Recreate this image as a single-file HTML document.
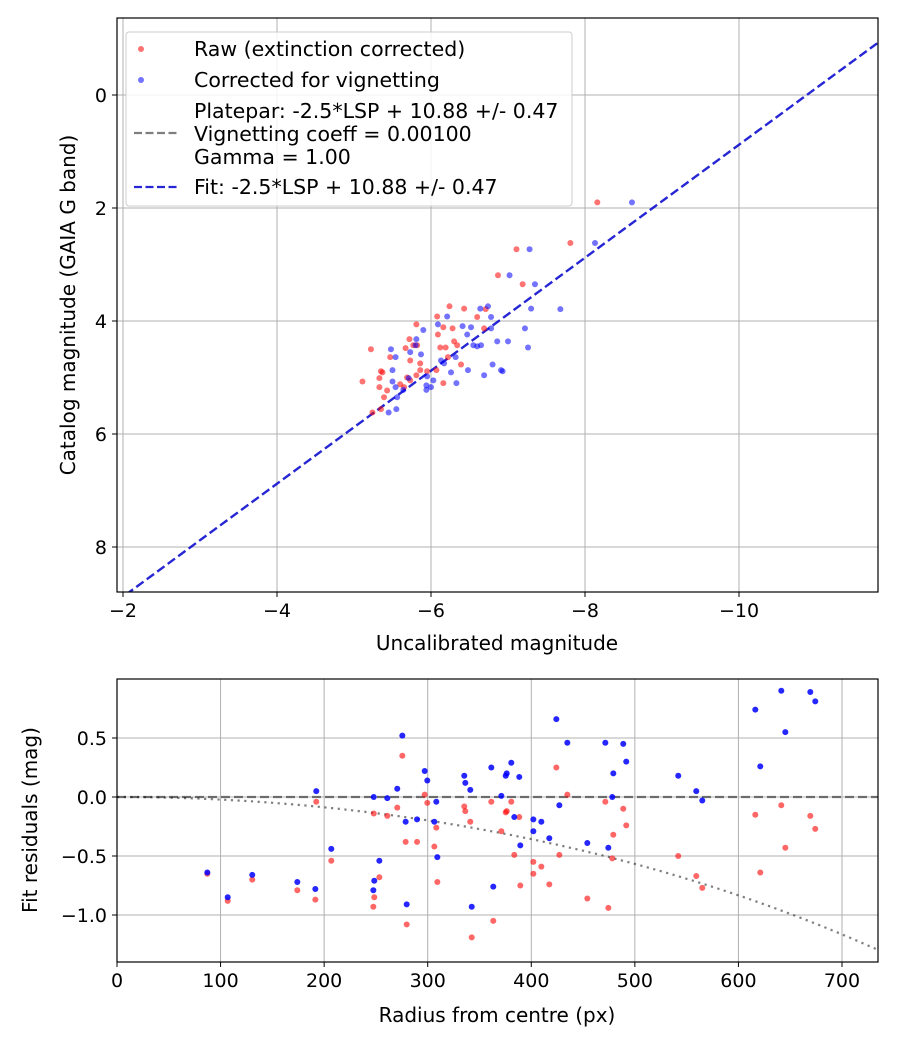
<!DOCTYPE html>
<html><head><meta charset="utf-8"><style>
body{margin:0;background:#fff}
svg{display:block;font-family:"DejaVu Sans","Liberation Sans",sans-serif}
</style></head><body>
<svg id="c" width="900" height="1050"></svg>
<script>
const rawUncal=[-8.16,-7.81,-7.11,-6.87,-7.19,-6.24,-6.43,-6.60,-6.71,-6.08,-5.81,-6.16,-6.28,-6.69,-6.09,-5.72,-6.30,-6.34,-5.77,-5.82,-5.67,-6.12,-6.19,-5.22,-5.47,-5.73,-6.22,-5.86,-6.39,-5.35,-5.37,-5.86,-5.95,-6.07,-5.81,-5.33,-5.11,-5.69,-5.73,-5.60,-6.16,-5.33,-5.43,-5.65,-5.39,-5.24,-5.35];
const rawCat=[1.90,2.62,2.73,3.19,3.35,3.74,3.78,3.93,3.79,3.92,4.06,4.11,4.13,4.13,4.24,4.32,4.36,4.43,4.43,4.43,4.48,4.47,4.47,4.50,4.64,4.70,4.64,4.75,4.77,4.89,4.91,4.87,4.89,4.87,4.96,5.01,5.07,5.00,5.05,5.12,5.10,5.17,5.23,5.17,5.35,5.62,5.56];
const corUncal=[-8.61,-8.13,-7.28,-7.02,-7.35,-6.74,-7.30,-7.68,-6.64,-6.21,-6.78,-6.09,-6.41,-6.52,-6.78,-7.22,-5.90,-6.47,-5.81,-6.86,-7.00,-6.55,-6.65,-6.60,-7.26,-5.48,-5.80,-5.73,-5.87,-5.54,-6.32,-6.13,-6.17,-6.80,-5.50,-6.26,-6.48,-6.91,-6.93,-6.69,-5.95,-6.03,-5.71,-5.50,-6.33,-5.94,-6.00,-5.54,-5.94,-5.64,-5.56,-5.45,-5.55];
const corCat=[1.90,2.62,2.73,3.19,3.35,3.74,3.78,3.79,3.78,3.92,3.93,4.06,4.09,4.11,4.13,4.13,4.16,4.24,4.32,4.36,4.36,4.43,4.43,4.45,4.47,4.50,4.43,4.55,4.59,4.64,4.64,4.70,4.75,4.77,4.87,4.91,4.87,4.87,4.89,4.96,4.98,5.05,5.01,5.07,5.10,5.14,5.17,5.17,5.22,5.22,5.35,5.62,5.56];
const radius=[87.2,106.9,130.6,174.1,191.5,192.4,206.9,247.9,247.5,248.4,253.3,261.0,270.6,275.5,278.7,279.7,289.7,297.1,299.6,308.3,306.4,309.3,335.3,336.3,341.1,342.5,361.4,363.3,371.1,375.3,376.3,380.7,388.4,383.6,389.4,402.0,402.0,409.7,417.4,424.2,434.8,427.1,454.1,471.5,478.2,479.2,474.4,488.8,491.7,541.9,559.3,565.1,616.3,621.1,641.4,645.3,669.4,674.2];
const residRaw=[-0.65,-0.88,-0.70,-0.79,-0.87,-0.04,-0.54,-0.14,-0.93,-0.85,-0.68,-0.16,-0.09,0.35,-0.38,-1.08,-0.38,0.02,-0.05,-0.26,-0.42,-0.72,-0.08,-0.12,-0.21,-1.19,-0.04,-1.05,-0.29,-0.13,-0.12,-0.04,-0.17,-0.49,-0.75,-0.55,-0.65,-0.59,-0.74,0.25,0.02,-0.49,-0.86,-0.04,-0.52,-0.32,-0.94,-0.10,-0.24,-0.50,-0.67,-0.77,-0.15,-0.64,-0.07,-0.43,-0.16,-0.27];
const residCor=[-0.64,-0.85,-0.66,-0.72,-0.78,0.05,-0.44,0.00,-0.79,-0.71,-0.54,-0.01,0.07,0.52,-0.21,-0.91,-0.19,0.22,0.14,-0.04,-0.21,-0.51,0.18,0.12,0.06,-0.93,0.25,-0.76,0.01,0.18,0.20,0.29,0.17,-0.17,-0.41,-0.19,-0.29,-0.21,-0.35,0.66,0.46,-0.07,-0.39,0.46,0.00,0.20,-0.43,0.45,0.30,0.18,0.05,-0.03,0.74,0.26,0.90,0.55,0.89,0.81];
const topXTicks=[-2,-4,-6,-8,-10];
const topYTicks=[0,2,4,6,8];
const botXTicks=[0,100,200,300,400,500,600,700];
const botYTicks=[0.5,0.0,-0.5,-1.0];
const fitOffset=10.88, vigCoeff=0.001;

const S=document.getElementById('c');const NS='http://www.w3.org/2000/svg';
function el(t,a,p){const e=document.createElementNS(NS,t);for(const k in a)e.setAttribute(k,a[k]);(p||S).appendChild(e);return e;}
const T={l:117,r:878,t:18,b:592};
const tx=v=>123+(-2-v)*77, ty=v=>95+v*56.5;
const B={l:117,r:878,t:679,b:962};
const bx=v=>117+v*1.0357, by=v=>797-v*118;
const TICK=19, TITLE=20, LEG=20.5;

function frame(A,name){
  const f=el('rect',{x:A.l,y:A.t,width:A.r-A.l,height:A.b-A.t,fill:'none',stroke:'#000','stroke-width':1.2});
  
}
function text(x,y,s,anchor,name,size,extra){const e=el('text',Object.assign({x:x,y:y,'font-size':size,'text-anchor':anchor||'middle',fill:'#000'},extra||{}));e.textContent=s;return e;}

function clip(id,A){const cp=el('clipPath',{id:id});el('rect',{x:A.l,y:A.t,width:A.r-A.l,height:A.b-A.t},cp);}
clip('ct',T);clip('cb',B);

topXTicks.forEach(v=>{const x=tx(v);
  const g=el('line',{x1:x,x2:x,y1:T.t,y2:T.b,stroke:'#b0b0b0','stroke-width':1});
  el('line',{x1:x,x2:x,y1:T.b,y2:T.b+5,stroke:'#000'});
  text(x,T.b+25,String(v).replace('-','\u2212'),'middle','x-tick-label',TICK);});
topYTicks.forEach(v=>{const y=ty(v);
  const g=el('line',{x1:T.l,x2:T.r,y1:y,y2:y,stroke:'#b0b0b0','stroke-width':1});
  el('line',{x1:T.l-5,x2:T.l,y1:y,y2:y,stroke:'#000'});
  text(T.l-10,y+7,String(v),'end','y-tick-label',TICK);});
const gt=el('g',{'clip-path':'url(#ct)'});
const xa=-1.9,xb=-11.9;
const fl=el('line',{x1:tx(xa),y1:ty(xa+fitOffset),x2:tx(xb),y2:ty(xb+fitOffset),stroke:'#0000cc','stroke-opacity':0.85,'stroke-width':2.4,'stroke-dasharray':'9,4'},gt);

rawUncal.forEach((v,i)=>{const c=el('circle',{cx:tx(v),cy:ty(rawCat[i]),r:3,fill:'#ff0000','fill-opacity':0.55},gt);
  });
corUncal.forEach((v,i)=>{const c=el('circle',{cx:tx(v),cy:ty(corCat[i]),r:3,fill:'#0000ff','fill-opacity':0.55},gt);
  });
frame(T,'top-axes');
text(497,650,'Uncalibrated magnitude','middle','x-axis-title',TITLE);
text(75,305,'Catalog magnitude (GAIA G band)','middle','y-axis-title',TITLE,{transform:'rotate(-90 75 305)'});
const lg=el('g',{});
el('rect',{x:126,y:32,width:446,height:174,rx:3,fill:'#fff','fill-opacity':0.85,stroke:'#ccc'},lg);
el('circle',{cx:141,cy:49,r:3,fill:'#ff0000','fill-opacity':0.55},lg);
el('circle',{cx:141,cy:80,r:3,fill:'#0000ff','fill-opacity':0.55},lg);
el('line',{x1:134,x2:178,y1:133,y2:133,stroke:'#000','stroke-opacity':0.5,'stroke-width':2.2,'stroke-dasharray':'8,3.5'},lg);
el('line',{x1:134,x2:178,y1:187,y2:187,stroke:'#0000cc','stroke-opacity':0.85,'stroke-width':2.2,'stroke-dasharray':'8,3.5'},lg);
[['Raw (extinction corrected)',56],['Corrected for vignetting',87],['Platepar: -2.5*LSP + 10.88 +/- 0.47',118],['Vignetting coeff = 0.00100',141],['Gamma = 1.00',164],['Fit: -2.5*LSP + 10.88 +/- 0.47',194]].forEach(a=>{
  const t=el('text',{x:194,y:a[1],'font-size':LEG},lg);t.textContent=a[0];});

botXTicks.forEach(v=>{const x=bx(v);
  const g=el('line',{x1:x,x2:x,y1:B.t,y2:B.b,stroke:'#b0b0b0','stroke-width':1});
  el('line',{x1:x,x2:x,y1:B.b,y2:B.b+5,stroke:'#000'});
  text(x,B.b+25,String(v),'middle','x-tick-label',TICK);});
botYTicks.forEach(v=>{const y=by(v);
  const g=el('line',{x1:B.l,x2:B.r,y1:y,y2:y,stroke:'#b0b0b0','stroke-width':1});
  el('line',{x1:B.l-5,x2:B.l,y1:y,y2:y,stroke:'#000'});
  text(B.l-10,y+7,v.toFixed(1).replace('-','\u2212'),'end','y-tick-label',TICK);});
const gb=el('g',{'clip-path':'url(#cb)'});
const zl=el('line',{x1:B.l,x2:B.r,y1:by(0),y2:by(0),stroke:'#000','stroke-opacity':0.5,'stroke-width':2.2,'stroke-dasharray':'9,4'},gb);

let d='';for(let r=0;r<=740;r+=5){const a=r*vigCoeff;const m=2.5*Math.log10(Math.pow(Math.cos(a),4));d+=(r?'L':'M')+bx(r).toFixed(1)+','+by(m).toFixed(1);}
const vc=el('path',{d:d,fill:'none',stroke:'#000','stroke-opacity':0.5,'stroke-width':2.2,'stroke-dasharray':'2.2,4.5'},gb);

radius.forEach((v,i)=>{const c=el('circle',{cx:bx(v),cy:by(residRaw[i]),r:3,fill:'#ff0000','fill-opacity':0.6},gb);
  });
radius.forEach((v,i)=>{const c=el('circle',{cx:bx(v),cy:by(residCor[i]),r:3,fill:'#0000ff','fill-opacity':0.85},gb);
  });
frame(B,'bottom-axes');
text(497,1022,'Radius from centre (px)','middle','x-axis-title',TITLE);
text(37,820,'Fit residuals (mag)','middle','y-axis-title',TITLE,{transform:'rotate(-90 37 820)'});
</script>
</body></html>
